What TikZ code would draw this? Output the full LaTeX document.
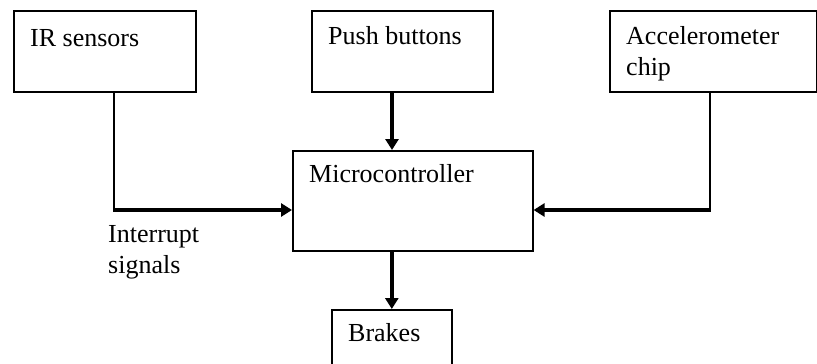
\documentclass[tikz,border=0pt]{standalone}
\usepackage{fontspec}
\setmainfont{Liberation Serif}
\usetikzlibrary{arrows.meta}
\tikzset{
  block/.style={draw=black, line width=1.6pt, fill=none, inner sep=0pt, anchor=north west},
  caption/.style={anchor=base west, inner sep=0pt, font=\fontsize{26}{31}\selectfont, align=left},
  wire/.style={draw=black, line width=1.6pt},
  flow/.style={draw=black, line width=3.6pt, -{Triangle[length=11pt, width=13pt]}},
}
\begin{document}
\begin{tikzpicture}[x=1pt, y=-1pt]
  \useasboundingbox (0,0) rectangle (817,364);
  \fill[white] (0,0) rectangle (817,364);

  % blocks
  \node[block, minimum width=182pt, minimum height=81pt] (ir) at (13,10) {};
  \node[block, minimum width=181pt, minimum height=81pt] (pb) at (311,10) {};
  \node[block, minimum width=207pt, minimum height=81pt] (acc) at (609,10) {};
  \node[block, minimum width=240pt, minimum height=100pt] (mc) at (292,150) {};
  \node[block, minimum width=120pt, minimum height=70pt] (br) at (331,309) {};

  % block captions (two-line captions sit on the baseline of their last line)
  \node[caption] (irtxt) at (30,46) {IR sensors};
  \node[caption] (pbtxt) at (328,45) {Push buttons};
  \node[caption] (acctxt) at (626,75) {Accelerometer\\chip};
  \node[caption] (mctxt) at (309,182) {Microcontroller};
  \node[caption] (brtxt) at (348,341) {Brakes};
  \node[caption] (inttxt) at (108,273) {Interrupt\\signals};

  % turning points of the side connectors
  \coordinate (irturn) at (114,210);
  \coordinate (accturn) at (710,210);
  \coordinate (pbx) at (392,0);

  % connectors
  \draw[wire] (ir.south -| irturn) -- (irturn);
  \draw[flow] ([xshift=-0.8pt]irturn) -- (mc.west |- irturn);
  \draw[wire] (acc.south -| accturn) -- (accturn);
  \draw[flow] ([xshift=0.8pt]accturn) -- (mc.east |- accturn);
  \draw[flow] (pb.south -| pbx) -- (mc.north -| pbx);
  \draw[flow] (mc.south -| br.north) -- (br.north);
\end{tikzpicture}
\end{document}
